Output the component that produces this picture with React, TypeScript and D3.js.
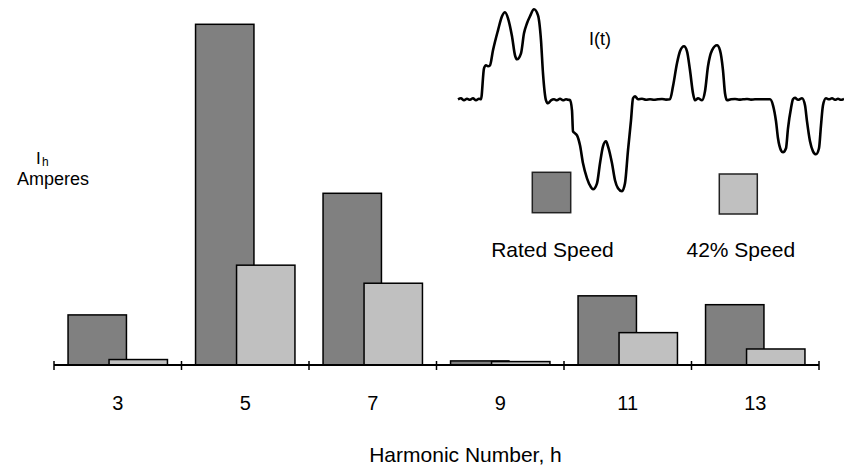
import React from "react";
import * as d3 from "d3";

const harmonics = ["3", "5", "7", "9", "11", "13"];
const ratedSpeed = [14.7, 100, 50.4, 1.2, 20.3, 17.7];
const speed42 = [1.6, 29.3, 24.0, 1.0, 9.5, 4.7];
const seriesNames = ["Rated Speed", "42% Speed"];

// current waveform I(t) (t in samples, I in arbitrary units)
const waveT = [
  0, 3, 6, 9, 12, 15, 18, 21, 23, 26, 28, 30, 32, 35, 40, 44, 47, 50, 54, 57, 59, 63, 66, 69, 72, 76, 80, 83, 85, 88, 90,
  93, 96, 99, 102, 105, 108, 110, 112, 114, 115, 117, 119, 122, 125, 129, 133, 135, 139, 142, 145, 148, 150, 154, 157, 160,
  164, 167, 170, 173, 175, 177, 180, 184, 188, 192, 196, 200, 204, 208, 212, 215, 219, 222, 226, 229, 232, 235, 237, 240,
  244, 247, 250, 254, 259, 262, 265, 267, 269, 273, 277, 281, 285, 289, 293, 297, 301, 308, 312, 315, 318, 320, 323, 325,
  328, 330, 333, 335, 337, 340, 344, 347, 349, 352, 355, 358, 361, 363, 365, 368, 371, 374, 377, 380, 383, 386,
];
const waveI = [
  0, 1, -1, 0.5, -0.5, 1, -1, 0.5, 0, 31, 34, 33, 34, 49, 69, 83, 87, 81, 63, 44, 40, 46, 66, 76, 83, 90, 84, 59, 26, -1, -4,
  -1, 0, -1, 0.5, -1, 0, -0.5, -0.7, -11, -32, -34, -36, -46, -64, -79, -88, -90, -84, -64, -47, -42, -47, -64, -81, -89,
  -92, -84, -51, -21, 1, 3, 0, 0.5, -0.5, 0, -0.5, 0, 0.3, -0.3, 0, 13, 36, 48, 53, 48, 29, 6, -1, 1,
  -1, 8, 33, 49, 54, 49, 29, 6, -1, 0, 0.3, -0.3, 0, 0.3, -0.3, 0, 0, 0, 0, -6, -22, -39, -51, -53,
  -49, -29, -9, 0, 1.5, -0.5, 1, -6, -22, -42, -52, -55, -49, -26, -6, 1, 0, 1, -0.5, 0.5, -0.5, 0.5,
];

const FONT = "'Liberation Sans', Arial, Helvetica, sans-serif";

export default function App() {
  const W = 844;
  const H = 467;
  const x = d3.scaleBand<string>().domain(harmonics).range([54, 819]).padding(0);
  const y = d3.scaleLinear().domain([0, 100]).range([365, 24.3]);
  const bw = x.bandwidth();
  const barW = bw * 0.458;
  const offset = bw * 0.1102;
  const shift = bw * 0.3216;

  const tx = d3.scaleLinear().domain([0, 386]).range([458, 844]);
  const ty = d3.scaleLinear().domain([-100, 100]).range([199.3, -0.7]);
  const pts: [number, number][] = waveT.map((t, i) => [t, waveI[i]]);
  const line = d3
    .line<[number, number]>()
    .x((d) => tx(d[0]))
    .y((d) => ty(d[1]))
    .curve(d3.curveMonotoneX);

  const tickXs = [...harmonics.map((h) => x(h) as number), 819];
  const colors = ["#808080", "#c0c0c0"];

  return (
    <svg
      width={W}
      height={H}
      style={{ position: "absolute", left: 0, top: 0, background: "#fff" }}
      fontFamily={FONT}
    >
      <rect x={0} y={0} width={W} height={H} fill="#fff" />
      {harmonics.map((h, i) => (
        <rect
          key={"d" + h}
          x={(x(h) as number) + offset}
          y={y(ratedSpeed[i])}
          width={barW}
          height={y(0) - y(ratedSpeed[i])}
          fill={colors[0]}
          stroke="#000"
          strokeWidth={1.5}
        />
      ))}
      {harmonics.map((h, i) => (
        <rect
          key={"l" + h}
          x={(x(h) as number) + offset + shift}
          y={y(speed42[i])}
          width={barW}
          height={y(0) - y(speed42[i])}
          fill={colors[1]}
          stroke="#000"
          strokeWidth={1.5}
        />
      ))}
      <line x1={54} x2={819} y1={y(0)} y2={y(0)} stroke="#000" strokeWidth={2} />
      {tickXs.map((t, i) => (
        <line key={"t" + i} x1={t} x2={t} y1={y(0) - 4} y2={y(0) + 5} stroke="#000" strokeWidth={1.5} />
      ))}
      {harmonics.map((h) => (
        <text key={"tl" + h} x={(x(h) as number) + bw / 2} y={409.5} fontSize={20} textAnchor="middle" fill="#000">
          {h}
        </text>
      ))}
      <text x={465.5} y={461.7} fontSize={21} textAnchor="middle" fill="#000">
        Harmonic Number, h
      </text>
      <text x={36} y={164} fontSize={17} fill="#000">
        I
      </text>
      <text x={42} y={165.5} fontSize={12} fill="#000">
        h
      </text>
      <text x={17} y={185} fontSize={18} fill="#000">
        Amperes
      </text>

      <path d={line(pts) || ""} fill="none" stroke="#000" strokeWidth={2.6} strokeLinejoin="round" />
      <text x={589} y={45} fontSize={18} fill="#000">
        I(t)
      </text>

      <rect x={532.3} y={172.3} width={38.4} height={40.4} fill={colors[0]} stroke="#222" strokeWidth={1.5} />
      <rect x={719.3} y={174} width={38} height={40} fill={colors[1]} stroke="#222" strokeWidth={1.5} />
      <text x={552.5} y={256.7} fontSize={21} textAnchor="middle" fill="#000">
        {seriesNames[0]}
      </text>
      <text x={740.8} y={256.7} fontSize={21} textAnchor="middle" fill="#000">
        {seriesNames[1]}
      </text>
    </svg>
  );
}
